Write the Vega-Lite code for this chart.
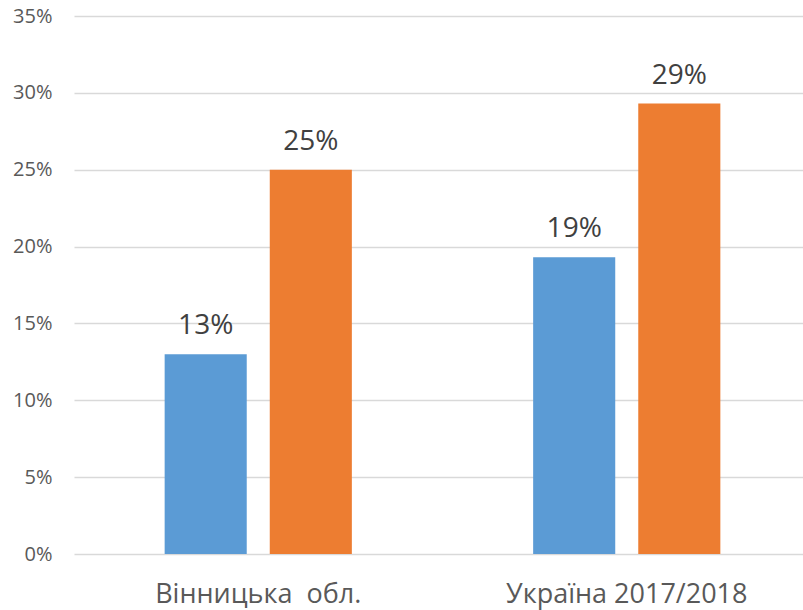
{
  "$schema": "https://vega.github.io/schema/vega-lite/v6.json",
  "autosize": "none",
  "padding": {"left": 74, "top": 16, "right": 0, "bottom": 56},
  "width": 729,
  "height": 538,
  "background": "white",
  "config": {"view": {"stroke": null}, "font": "Open Sans"},
  "data": {"values": [
    {"region": "Вінницька\u00a0 обл.", "series": "A", "value": 0.13},
    {"region": "Вінницька\u00a0 обл.", "series": "B", "value": 0.25},
    {"region": "Україна 2017/2018", "series": "A", "value": 0.193},
    {"region": "Україна 2017/2018", "series": "B", "value": 0.293}
  ]},
  "encoding": {
    "x": {"field": "region", "type": "nominal", "sort": null,
      "scale": {"range": [0, 737], "paddingInner": 0.492, "paddingOuter": 0.246},
      "axis": {"title": null, "domain": false, "ticks": false, "tickSize": 0, "grid": false, "labelAngle": 0, "labelFontSize": 27, "labelColor": "#595959", "labelBaseline": "alphabetic", "labelPadding": 48, "labelFont": "Open Sans", "labelLimit": 0}},
    "xOffset": {"field": "series", "type": "nominal", "scale": {"paddingInner": 0.219, "paddingOuter": 0}},
    "y": {"field": "value", "type": "quantitative",
      "scale": {"domain": [0, 0.35], "nice": false},
      "axis": {"title": null, "format": ".0%", "values": [0, 0.05, 0.1, 0.15, 0.2, 0.25, 0.3, 0.35], "domain": false, "ticks": false, "tickSize": 0, "labelPadding": 22, "labelFontSize": 20, "labelColor": "#595959", "labelFont": "Open Sans", "gridColor": "#D9D9D9", "gridWidth": 1.3}}
  },
  "layer": [
    {"mark": {"type": "bar"},
     "encoding": {"color": {"field": "series", "type": "nominal", "legend": null, "scale": {"domain": ["A", "B"], "range": ["#5B9BD5", "#ED7D31"]}}}},
    {"mark": {"type": "text", "baseline": "alphabetic", "dy": -20, "fontSize": 28, "color": "#404040", "font": "Open Sans"},
     "encoding": {"text": {"field": "value", "type": "quantitative", "format": ".0%"}}}
  ]
}
